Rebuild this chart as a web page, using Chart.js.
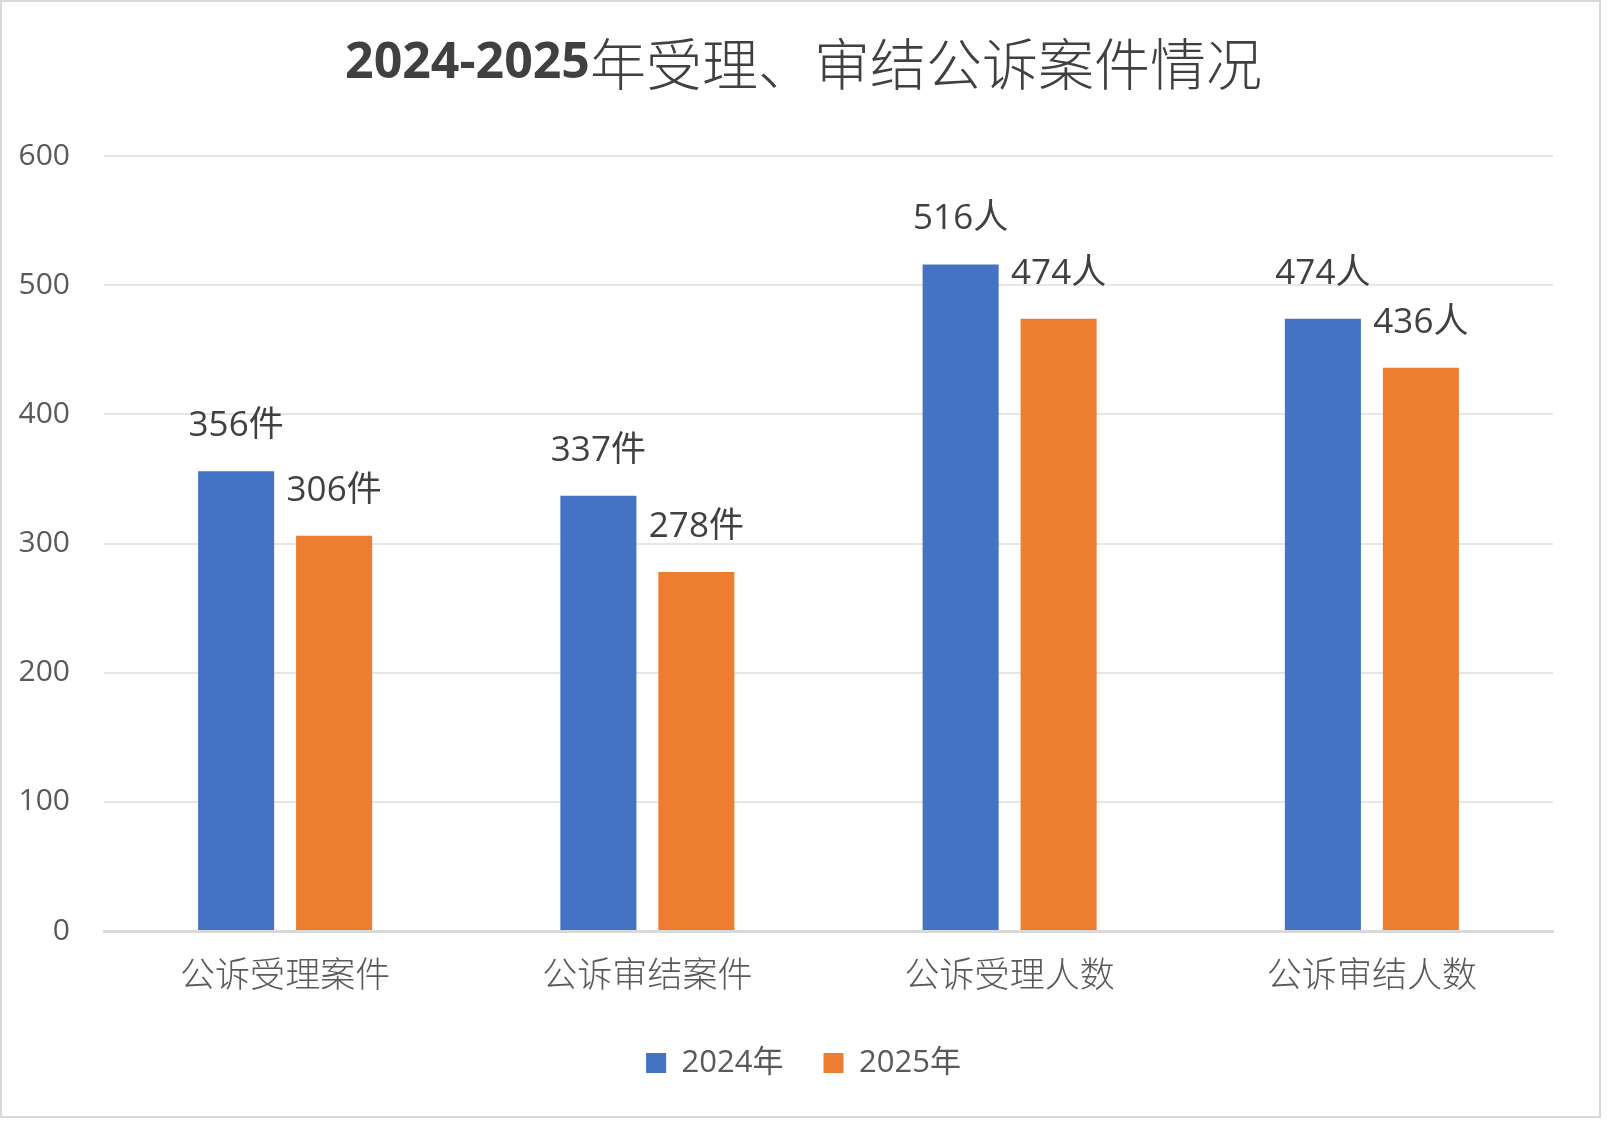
<!DOCTYPE html>
<html>
<head>
<meta charset="utf-8">
<script src="https://cdn.jsdelivr.net/npm/chart.js@4/dist/chart.umd.min.js"></script>
<style>
  html, body { margin: 0; padding: 0; background: #fff; }
  .frame {
    position: absolute; left: 0; top: 0;
    width: 1601px; height: 1118px;
    box-sizing: border-box;
    border: 2px solid #d9d9d9;
    background: #fff;
  }
  .box { position: relative; width: 1597px; height: 1114px; }
</style>
</head>
<body>
<div class="frame"><div class="box"><canvas id="caseChart"></canvas></div></div>
<script>
// 2024-2025 prosecution figures
const titleYears = '2024-2025';
const titleRest = '年受理、审结公诉案件情况';
const categories = ['公诉受理案件', '公诉审结案件', '公诉受理人数', '公诉审结人数'];
const units = ['件', '件', '人', '人'];
const series2024 = [356, 337, 516, 474];
const series2025 = [306, 278, 474, 436];
const seriesNames = ['2024年', '2025年'];
const yMax = 600;
const yStep = 100;

const latin = '"Open Sans", "Noto Sans CJK SC", sans-serif';
const cjk = '"Noto Sans CJK SC", "Open Sans", sans-serif';

// title: bold digits, plain CJK part
const splitTitle = {
  id: 'splitTitle',
  afterDraw(chart) {
    const ctx = chart.ctx;
    ctx.save();
    ctx.fillStyle = '#404040';
    ctx.textBaseline = 'middle';
    ctx.textAlign = 'left';
    const f1 = 'bold 50px ' + latin;
    const f2 = '300 56px ' + cjk;
    ctx.font = f1;
    const w1 = ctx.measureText(titleYears).width;
    ctx.font = f2;
    const w2 = ctx.measureText(titleRest).width;
    const x = chart.width / 2 + 3 - (w1 + w2) / 2;
    const y = 62;
    ctx.font = f1;
    ctx.fillText(titleYears, x, y);
    ctx.font = f2;
    ctx.fillText(titleRest, x + w1, y);
    ctx.restore();
  }
};

// value labels above each bar
const barLabels = {
  id: 'barLabels',
  afterDatasetsDraw(chart) {
    const ctx = chart.ctx;
    ctx.save();
    ctx.fillStyle = '#404040';
    ctx.font = '35px ' + latin;
    ctx.textAlign = 'center';
    ctx.textBaseline = 'middle';
    chart.data.datasets.forEach((ds, i) => {
      chart.getDatasetMeta(i).data.forEach((bar, j) => {
        ctx.fillText(ds.data[j] + units[j], bar.x, bar.y - 45);
      });
    });
    ctx.restore();
  }
};

new Chart(document.getElementById('caseChart'), {
  type: 'bar',
  data: {
    labels: categories,
    datasets: [
      { label: seriesNames[0], data: series2024, backgroundColor: '#4472C4', borderWidth: 0 },
      { label: seriesNames[1], data: series2025, backgroundColor: '#ED7D31', borderWidth: 0 }
    ]
  },
  options: {
    responsive: true,
    maintainAspectRatio: false,
    animation: false,
    categoryPercentage: 0.541,
    barPercentage: 0.776,
    layout: { padding: { top: 154, left: 6, right: 0, bottom: 27.5 } },
    plugins: {
      title: { display: false },
      tooltip: { enabled: false },
      legend: {
        position: 'bottom',
        labels: {
          boxWidth: 20,
          boxHeight: 20,
          padding: 40,
          color: '#595959',
          font: { size: 31, family: latin }
        }
      }
    },
    scales: {
      x: {
        grid: { display: false, drawTicks: false },
        border: { display: true, color: '#d9d9d9', width: 3 },
        ticks: { padding: 22, color: '#595959', font: { size: 35, family: cjk, weight: 300 } },
        afterFit(scale) { scale.height = 76.5; }
      },
      y: {
        min: 0,
        max: yMax,
        grid: { color: '#e6e6e6', lineWidth: 2, drawTicks: false },
        border: { display: false },
        ticks: { stepSize: yStep, padding: 34, color: '#595959', font: { size: 30, family: latin } },
        afterFit(scale) { scale.width = 96; }
      },
      // empty right margin so the legend stays centred on the frame
      yRight: {
        position: 'right',
        min: 0,
        max: yMax,
        grid: { display: false, drawTicks: false },
        border: { display: false },
        ticks: { display: false },
        afterFit(scale) { scale.width = 46; }
      }
    }
  },
  plugins: [splitTitle, barLabels]
});
</script>
</body>
</html>
